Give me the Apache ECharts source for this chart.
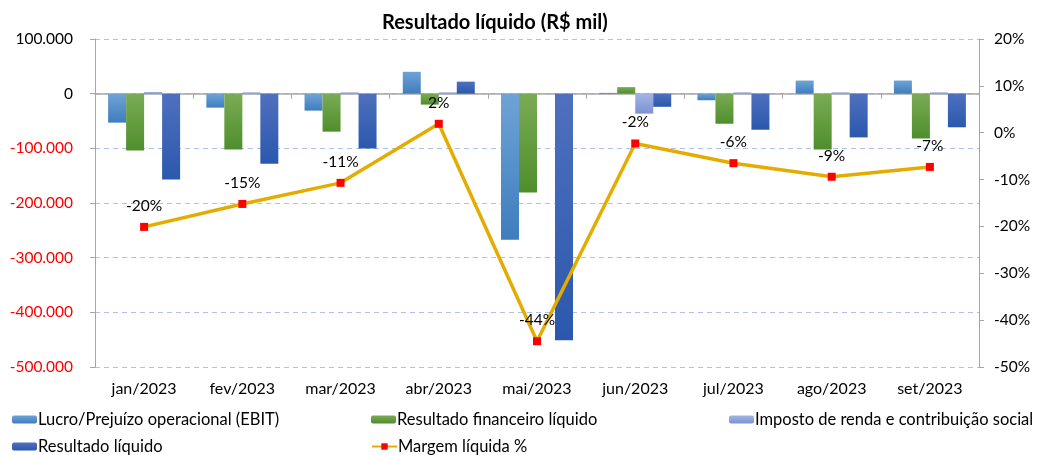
<!DOCTYPE html>
<html>
<head>
<meta charset="utf-8">
<script src="https://cdn.jsdelivr.net/npm/echarts@6/dist/echarts.min.js"></script>
<style>
  html, body { margin: 0; padding: 0; background: #fff; }
  #chart { width: 1042px; height: 455px; }
</style>
</head>
<body>
<div id="chart"></div>
<script>
// Meses
const months = ["jan/2023", "fev/2023", "mar/2023", "abr/2023", "mai/2023", "jun/2023", "jul/2023", "ago/2023", "set/2023"];

// Valores em R$ mil
const ebit = [-53000, -25500, -31000, 40000, -267000, 1500, -12000, 24000, 24000];
const financeiro = [-104000, -102000, -69500, -20000, -181000, 12000, -55000, -102000, -82000];
const imposto = [3000, 2500, 2500, 2500, 0, -36500, 2500, 2500, 2500];
const resultado = [-157000, -128000, -100500, 22000, -451000, -24000, -66000, -80000, -61500];

// Margem líquida (%)
const margem = [-20.1, -15.2, -10.7, 1.9, -44.5, -2.3, -6.5, -9.4, -7.3];

const FONT = "Lato";

const chart = echarts.init(document.getElementById("chart"));

const grad = (top, bottom) => new echarts.graphic.LinearGradient(0, 0, 0, 1, [
  { offset: 0, color: top },
  { offset: 1, color: bottom },
]);

// 100000 -> "100.000", negativos em vermelho
const fmtMil = (v) => {
  const s = Math.abs(v).toString().replace(/\B(?=(\d{3})+(?!\d))/g, ".");
  return v < 0 ? "{neg|-" + s + "}" : "{pos|" + s + "}";
};

const barBase = {
  type: "bar",
  barWidth: 18,
  barGap: "0%",
  xAxisIndex: 0,
  yAxisIndex: 0,
};

const legendBase = {
  itemWidth: 25,
  itemHeight: 8,
  itemGap: 0,
  textStyle: { fontFamily: FONT, fontSize: 16.5, color: "#000", padding: [0, 0, 0, -4] },
  padding: 0,
};

const option = {
  backgroundColor: "#fff",
  animation: false,
  title: {
    text: "Resultado líquido (R$ mil)",
    left: 377,
    top: 8,
    textStyle: { fontFamily: FONT, fontSize: 20, fontWeight: "bold", color: "#000" },
  },
  legend: [
    { ...legendBase, left: 12, top: 411, data: ["Lucro/Prejuízo operacional (EBIT)"] },
    { ...legendBase, left: 371, top: 411, data: ["Resultado financeiro líquido"] },
    { ...legendBase, left: 729, top: 411, data: ["Imposto de renda e contribuição social"] },
    { ...legendBase, left: 12, top: 438, data: ["Resultado líquido"] },
    { ...legendBase, left: 371, top: 438, data: ["Margem líquida %"] },
  ],
  grid: { left: 95, right: 63, top: 39, bottom: 88 },
  xAxis: [
    {
      type: "category",
      data: months,
      axisLine: { onZero: true, onZeroAxisIndex: 0, lineStyle: { color: "#a6a6a6", width: 1.5 } },
      axisTick: { show: true, length: 5, inside: false, lineStyle: { color: "#a6a6a6" } },
      axisLabel: { show: false },
    },
    {
      type: "category",
      data: months,
      position: "bottom",
      axisLine: { show: false },
      axisTick: { show: false },
      axisLabel: { fontFamily: FONT, fontSize: 16, color: "#000", margin: 14 },
    },
  ],
  yAxis: [
    {
      type: "value",
      min: -500000,
      max: 100000,
      interval: 100000,
      axisLine: { show: true, lineStyle: { color: "#a6a6a6" } },
      axisTick: { show: true, length: 5, lineStyle: { color: "#a6a6a6" } },
      axisLabel: {
        margin: 22,
        formatter: fmtMil,
        rich: {
          neg: { fontFamily: FONT, fontSize: 15.5, color: "#ff0000" },
          pos: { fontFamily: FONT, fontSize: 15.5, color: "#000" },
        },
      },
      splitLine: { lineStyle: { type: [5, 4], color: "#adc2ea", width: 1 } },
    },
    {
      type: "value",
      min: -50,
      max: 20,
      interval: 10,
      position: "right",
      axisLine: { show: true, lineStyle: { color: "#a6a6a6" } },
      axisTick: { show: true, length: 5, lineStyle: { color: "#a6a6a6" } },
      axisLabel: { fontFamily: FONT, fontSize: 15.5, color: "#000", margin: 15, formatter: "{value}%" },
      splitLine: { show: false },
    },
  ],
  series: [
    {
      ...barBase,
      name: "Lucro/Prejuízo operacional (EBIT)",
      data: ebit,
      itemStyle: { color: grad("#6fa3d6", "#3f7dbd") },
    },
    {
      ...barBase,
      name: "Resultado financeiro líquido",
      data: financeiro,
      itemStyle: { color: grad("#7aab55", "#4f8e2c") },
    },
    {
      ...barBase,
      name: "Imposto de renda e contribuição social",
      data: imposto,
      itemStyle: { color: grad("#a2b4e2", "#7b93d3") },
    },
    {
      ...barBase,
      name: "Resultado líquido",
      data: resultado,
      itemStyle: { color: grad("#4f70be", "#2b58ad") },
    },
    {
      type: "line",
      name: "Margem líquida %",
      xAxisIndex: 0,
      yAxisIndex: 1,
      data: margem,
      z: 5,
      symbol: "rect",
      symbolSize: 8,
      lineStyle: { color: "#e5ac00", width: 3.5 },
      itemStyle: { color: "#ff0000", borderWidth: 0 },
      label: {
        show: true,
        position: "top",
        distance: 9,
        fontFamily: FONT,
        fontSize: 15.5,
        color: "#000",
        formatter: (p) => Math.round(p.value) + "%",
      },
    },
  ],
};

chart.setOption(option);
</script>
</body>
</html>
